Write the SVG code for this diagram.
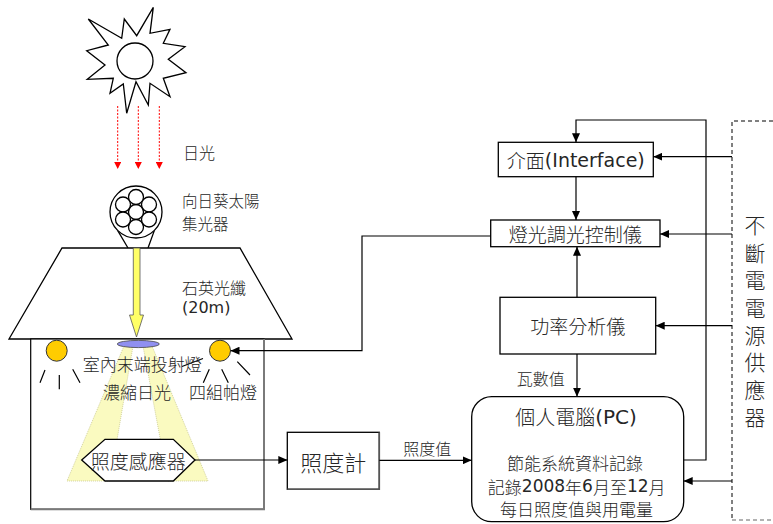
<svg xmlns="http://www.w3.org/2000/svg" width="773" height="524" viewBox="0 0 773 524">
  <defs>
    <marker id="arrow" markerUnits="userSpaceOnUse" markerWidth="9" markerHeight="8" refX="9" refY="4" orient="auto">
      <path d="M0,0 L9,4 L0,8 z" fill="#000"/>
    </marker>
    <marker id="arrowRed" markerUnits="userSpaceOnUse" markerWidth="7" markerHeight="7" refX="7" refY="3.5" orient="auto">
      <path d="M0,0 L7,3.5 L0,7 z" fill="#f00"/>
    </marker>
  </defs>
  <style>
    text { font-family: "Noto Sans CJK TC", sans-serif; font-weight: 300; fill: #262626; dominant-baseline: central; }
    .lat { font-family: "DejaVu Sans", sans-serif; font-weight: 400; }
    .mid { text-anchor: middle; }
    .vert { writing-mode: vertical-rl; letter-spacing: 6.4px; }
    .box { fill: #fff; stroke: #000; stroke-width: 1.3; }
    .line { fill: none; stroke: #000; stroke-width: 1.3; }
    .conn { fill: none; stroke: #000; stroke-width: 1.2; marker-end: url(#arrow); }
    .sunray { fill: none; stroke: #f00; stroke-width: 1; stroke-dasharray: 2 1.5; marker-end: url(#arrowRed); }
    .ray { stroke: #000; stroke-width: 1.2; }
    .lamp { fill: #ffcc00; stroke: #333; stroke-width: 1; }
    .beam { fill: #fafac0; stroke: #c8c890; stroke-width: 0.8; stroke-dasharray: 1 1; }
  </style>

  <!-- sun -->
  <g id="sun">
    <polygon class="box" points="88.3,19 121.7,38.3 124.3,19 136.7,35.7 153.3,7.3 150,33.3 170,29.3 163.3,43.3 185,46.7 168.3,59.3 186,72.7 163.3,78.3 170,96.7 150,83.3 148.3,105 136,81.7 126.7,113.3 123.3,84 110,93.3 113.3,78.3 87.3,79.3 105,65 86.7,50.7 108.3,45"/>
    <circle class="box" cx="135" cy="61" r="18"/>
  </g>
  <text x="183" y="152" font-size="16">日光</text>

  <!-- sunflower collector -->
  <g id="collector">
    <path class="line" d="M117.6,230.4 L128,248 M154.4,230.4 L148,248"/>
    <circle class="box" cx="136" cy="212" r="26"/>
    <circle class="box" cx="136" cy="212" r="7.5"/>
    <circle class="box" cx="136" cy="197" r="7.5"/>
    <circle class="box" cx="136" cy="227" r="7.5"/>
    <circle class="box" cx="123" cy="204.5" r="7.5"/>
    <circle class="box" cx="149" cy="204.5" r="7.5"/>
    <circle class="box" cx="123" cy="219.5" r="7.5"/>
    <circle class="box" cx="149" cy="219.5" r="7.5"/>
  </g>
  <text font-size="15.5"><tspan x="182" y="199.5">向日葵太陽</tspan><tspan x="182" y="222.5">集光器</tspan></text>

  <!-- building roof and room -->
  <g id="building">
    <polygon class="box" points="62,248 240,248 292,339 9,339"/>
    <rect x="30.7" y="339" width="233.3" height="170.3" fill="#fff" stroke="#000" stroke-width="1.2"/>
    <polyline points="264,339 264,509.3 30.7,509.3" fill="none" stroke="#7a7a7a" stroke-width="2"/>
  </g>
  <text font-size="16"><tspan x="182" y="287">石英光纖</tspan><tspan class="lat" x="182" y="307">(20m)</tspan></text>

  <!-- quartz fibre (yellow arrow) -->
  <g id="fiber">
    <polygon points="133.3,248 140,248 140,315 143.5,315 136.5,337 129.5,315 133.3,315" fill="#ffff66" stroke="#555" stroke-width="0.8"/>
  </g>

  <!-- concentrated sunlight beams -->
  <g id="beams">
    <polygon class="beam" points="124,346 133,346 110,481 67,481"/>
    <polygon class="beam" points="143,346 152,346 208,481 168,481"/>
  </g>

  <!-- end projector -->
  <g id="projector">
    <ellipse cx="138.3" cy="344" rx="21" ry="3.6" fill="#9090f0" stroke="#444" stroke-width="0.8"/>
  </g>

  <!-- PAR lamps -->
  <g id="lamp-left">
    <circle class="lamp" cx="56.7" cy="350.7" r="10.5"/>
    <path class="ray" d="M45,370 L40,382.7 M59.3,375 L59.3,389.3 M72.7,369.3 L80,382.7"/>
  </g>
  <g id="lamp-right">
    <circle class="lamp" cx="220" cy="350.7" r="10.5"/>
    <path class="ray" d="M209.3,369.3 L203.3,382.7 M221.7,369.3 L228.3,382.7 M237.3,361.7 L250,375 M182,366.5 L203,358.5"/>
  </g>
  <text x="82.7" y="363.5" font-size="17">室內末端投射燈</text>
  <text x="103" y="391.7" font-size="17">濃縮日光</text>
  <text x="189" y="391.7" font-size="17">四組帕燈</text>

  <!-- illuminance sensor -->
  <g id="sensor">
    <polygon class="box" points="81.7,460 105,439.3 173.3,439.3 195,460 173.3,481 105,481"/>
    <text class="mid" x="138.3" y="460" font-size="19">照度感應器</text>
  </g>

  <!-- lux meter -->
  <g id="luxmeter">
    <rect class="box" x="287.3" y="432.3" width="92" height="57"/>
    <polyline points="379.3,432.3 379.3,489.3 287.3,489.3" fill="none" stroke="#555" stroke-width="1.6"/>
    <text class="mid" x="333.3" y="461" font-size="22">照度計</text>
  </g>

  <!-- interface -->
  <g id="interface">
    <rect class="box" x="498.3" y="142.3" width="155" height="34.4"/>
    <text class="mid" x="575.8" y="159.5" font-size="19">介面<tspan class="lat">(Interface)</tspan></text>
  </g>

  <!-- dimming controller -->
  <g id="controller">
    <rect class="box" x="490.7" y="220" width="169.3" height="26.7"/>
    <text class="mid" x="575.3" y="233.3" font-size="19">燈光調光控制儀</text>
  </g>

  <!-- power analyzer -->
  <g id="analyzer">
    <rect class="box" x="500" y="297.3" width="155.7" height="56.7"/>
    <text class="mid" x="577.8" y="325.7" font-size="19">功率分析儀</text>
  </g>

  <!-- personal computer -->
  <g id="pc">
    <rect class="box" x="471.7" y="396.7" width="212" height="125" rx="20" ry="20"/>
    <text class="mid" x="576" y="416.7" font-size="20">個人電腦<tspan class="lat">(PC)</tspan></text>
    <text class="mid" font-size="17"><tspan x="575" y="461.7">節能系統資料記錄</tspan><tspan x="576.7" y="485.7">記錄<tspan class="lat">2008</tspan>年<tspan class="lat">6</tspan>月至<tspan class="lat">12</tspan>月</tspan><tspan x="576.5" y="508.3">每日照度值與用電量</tspan></text>
  </g>

  <!-- uninterruptible power supply -->
  <g id="ups">
    <path d="M780,121 H732 V520" fill="none" stroke="#000" stroke-width="1" stroke-dasharray="4 3"/>
    <path d="M732,520 H780" fill="none" stroke="#999" stroke-width="1.4" stroke-dasharray="4 3"/>
    <text class="vert" x="755" y="215" font-size="21">不斷電電源供應器</text>
  </g>

  <!-- connectors -->
  <g id="connectors">
    <path class="sunray" d="M117.7,106 V169"/>
    <path class="sunray" d="M138.3,106 V169"/>
    <path class="sunray" d="M159.3,106 V169"/>
    <path class="conn" d="M195,460 H287.3"/>
    <path class="conn" d="M379.3,460.3 H471.7"/>
    <path class="conn" d="M490.7,236 H362 V350.7 H230.5"/>
    <path class="conn" d="M683.7,460 H706 V120 H576 V142.3"/>
    <path class="conn" d="M576,176.7 V220"/>
    <path class="conn" d="M577,297.3 V246.7"/>
    <path class="conn" d="M577,354 V396.7"/>
    <path class="conn" d="M732,156.7 H653.3"/>
    <path class="conn" d="M732,234 H660"/>
    <path class="conn" d="M732,325.7 H655.7"/>
    <path class="conn" d="M732,481 H683.7"/>
    <text x="516.7" y="378.3" font-size="16">瓦數值</text>
    <text x="403.3" y="448.3" font-size="16">照度值</text>
  </g>
</svg>
